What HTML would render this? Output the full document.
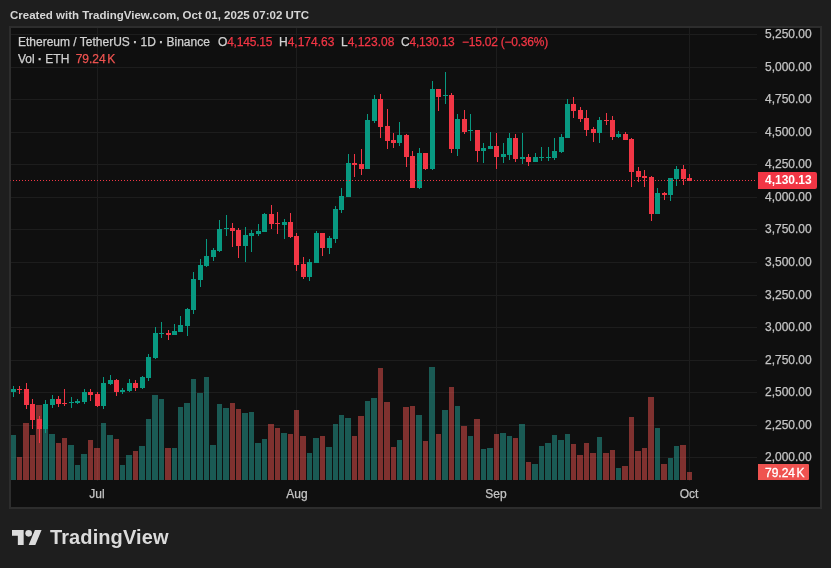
<!DOCTYPE html>
<html><head><meta charset="utf-8"><title>ETHUSDT</title>
<style>
html,body{margin:0;padding:0}
body{width:831px;height:568px;background:#1e1e1e;position:relative;overflow:hidden;font-family:"Liberation Sans",sans-serif;font-size:12px;color:#d1d1d1}
.abs{position:absolute;white-space:nowrap;line-height:14px;-webkit-text-stroke:0.25px}
#title{left:10px;top:8px;-webkit-text-stroke:0;font-weight:bold;font-size:11.5px;color:#d6d6d6;letter-spacing:0px}
#panel{position:absolute;left:9px;top:26px;width:809px;height:479px;border:2px solid #2d2d2d;background:#0f0f0f}
svg{position:absolute;left:0;top:0}
.pl{-webkit-text-stroke:0.25px;position:absolute;left:765px;width:47px;text-align:left;line-height:14px;height:14px;color:#c4c4c4;white-space:nowrap}
.tl{-webkit-text-stroke:0.25px;position:absolute;top:487px;width:40px;text-align:center;line-height:14px;color:#c4c4c4}
.r{color:#f23645}
.n{letter-spacing:-0.2px}
#pricebox{position:absolute;left:758px;top:172px;width:59px;height:17px;background:#f23645;border-radius:0 2px 2px 0;color:#fff;font-weight:bold;line-height:16px;text-indent:7px}
#volbox{-webkit-text-stroke:0.3px;position:absolute;left:758px;top:464px;width:51px;height:16px;background:#ef5350;border-radius:0 1px 1px 0;color:#fff;line-height:18px;text-indent:7px}
#logo{position:absolute;left:12px;top:530px}
#brand{position:absolute;left:50px;top:525px;font-size:20px;line-height:24px;font-weight:bold;color:#dbdbdb;letter-spacing:0.1px;white-space:nowrap}
</style></head><body>
<div id="title" class="abs">Created with TradingView.com, Oct 01, 2025 07:02 UTC</div>
<div id="panel"></div>
<svg width="831" height="568" viewBox="0 0 831 568" shape-rendering="crispEdges">
<path fill="#1d1d1d" d="M11 34h746v1h-746zM11 67h746v1h-746zM11 99h746v1h-746zM11 132h746v1h-746zM11 164h746v1h-746zM11 197h746v1h-746zM11 229h746v1h-746zM11 262h746v1h-746zM11 295h746v1h-746zM11 327h746v1h-746zM11 360h746v1h-746zM11 392h746v1h-746zM11 425h746v1h-746zM11 457h746v1h-746zM97 28h1v453h-1zM296 28h1v453h-1zM496 28h1v453h-1zM689 28h1v453h-1z"/>
<path fill="rgba(38,166,154,0.5)" d="M11 435h5V480h-5zM43 429h5V480h-5zM49 434h6V480h-6zM68 445h6V480h-6zM75 465h5V480h-5zM81 454h6V480h-6zM101 423h5V480h-5zM107 435h6V480h-6zM120 465h5V480h-5zM126 455h6V480h-6zM139 446h6V480h-6zM146 419h5V480h-5zM152 395h6V480h-6zM159 399h5V480h-5zM172 448h5V480h-5zM178 407h5V480h-5zM184 403h6V480h-6zM191 379h5V480h-5zM197 393h6V480h-6zM204 377h5V480h-5zM210 445h6V480h-6zM217 404h5V480h-5zM223 408h6V480h-6zM242 413h6V480h-6zM249 412h5V480h-5zM255 443h6V480h-6zM262 439h5V480h-5zM281 433h6V480h-6zM307 453h5V480h-5zM313 438h6V480h-6zM326 447h6V480h-6zM333 424h5V480h-5zM339 415h5V480h-5zM345 418h6V480h-6zM365 401h5V480h-5zM371 398h6V480h-6zM397 440h5V480h-5zM416 415h6V480h-6zM429 367h6V480h-6zM442 410h6V480h-6zM455 406h5V480h-5zM468 436h5V480h-5zM481 449h5V480h-5zM487 448h6V480h-6zM500 433h6V480h-6zM507 436h5V480h-5zM519 424h6V480h-6zM532 464h6V480h-6zM539 446h5V480h-5zM545 443h6V480h-6zM552 435h5V480h-5zM558 440h6V480h-6zM565 434h5V480h-5zM597 437h5V480h-5zM616 468h5V480h-5zM655 428h5V480h-5zM668 458h5V480h-5zM674 446h5V480h-5z"/>
<path fill="rgba(239,83,80,0.5)" d="M17 457h5V480h-5zM23 423h6V480h-6zM30 435h5V480h-5zM36 405h6V480h-6zM56 443h5V480h-5zM62 438h5V480h-5zM88 440h5V480h-5zM94 448h6V480h-6zM114 439h5V480h-5zM133 451h5V480h-5zM165 448h6V480h-6zM230 403h5V480h-5zM236 409h5V480h-5zM268 424h6V480h-6zM275 428h5V480h-5zM288 434h5V480h-5zM294 410h5V480h-5zM300 436h6V480h-6zM320 436h5V480h-5zM352 436h5V480h-5zM358 416h6V480h-6zM378 368h5V480h-5zM384 402h6V480h-6zM391 447h5V480h-5zM403 407h6V480h-6zM410 406h5V480h-5zM423 441h5V480h-5zM436 434h5V480h-5zM449 387h5V480h-5zM461 426h6V480h-6zM474 419h6V480h-6zM494 434h5V480h-5zM513 438h5V480h-5zM526 462h5V480h-5zM571 444h5V480h-5zM577 455h6V480h-6zM584 443h5V480h-5zM590 453h6V480h-6zM603 453h6V480h-6zM610 450h5V480h-5zM622 466h6V480h-6zM629 417h5V480h-5zM635 451h6V480h-6zM642 448h5V480h-5zM648 397h6V480h-6zM661 464h6V480h-6zM680 445h6V480h-6zM687 472h5V480h-5z"/>
<path fill="#089981" d="M13 386h1V397h-1zM11 389h5V392h-5zM45 400h1V433h-1zM43 404h5V429h-5zM52 395h1V408h-1zM50 399h5V405h-5zM71 397h1V408h-1zM69 402h5V403h-5zM77 399h1V404h-1zM75 401h5V403h-5zM84 389h1V404h-1zM82 392h5V402h-5zM103 377h1V409h-1zM101 383h5V406h-5zM110 375h1V385h-1zM108 380h5V384h-5zM122 388h1V394h-1zM120 390h5V392h-5zM129 379h1V392h-1zM127 383h5V391h-5zM142 376h1V389h-1zM140 377h5V388h-5zM148 354h1V381h-1zM146 357h5V378h-5zM155 327h1V359h-1zM153 333h5V358h-5zM161 322h1V338h-1zM159 333h5V334h-5zM174 324h1V335h-1zM172 331h5V335h-5zM180 316h1V332h-1zM178 325h5V332h-5zM187 308h1V336h-1zM185 309h5V326h-5zM193 272h1V314h-1zM191 279h5V310h-5zM200 259h1V287h-1zM198 265h5V280h-5zM206 239h1V267h-1zM204 256h5V266h-5zM213 248h1V261h-1zM211 250h5V257h-5zM219 220h1V252h-1zM217 229h5V251h-5zM226 215h1V236h-1zM224 228h5V229h-5zM245 227h1V262h-1zM243 235h5V246h-5zM251 230h1V252h-1zM249 233h5V236h-5zM258 224h1V236h-1zM256 231h5V234h-5zM264 213h1V232h-1zM262 214h5V232h-5zM284 219h1V239h-1zM282 222h5V225h-5zM309 259h1V281h-1zM307 262h5V277h-5zM316 231h1V263h-1zM314 233h5V263h-5zM329 236h1V254h-1zM327 238h5V248h-5zM335 206h1V243h-1zM333 209h5V239h-5zM341 188h1V213h-1zM339 196h5V210h-5zM348 154h1V197h-1zM346 163h5V197h-5zM367 114h1V169h-1zM365 120h5V169h-5zM374 95h1V123h-1zM372 99h5V121h-5zM399 122h1V146h-1zM397 135h5V143h-5zM419 148h1V189h-1zM417 153h5V188h-5zM432 81h1V170h-1zM430 89h5V169h-5zM445 72h1V104h-1zM443 95h5V96h-5zM457 114h1V156h-1zM455 119h5V149h-5zM470 114h1V141h-1zM468 130h5V131h-5zM483 143h1V163h-1zM481 148h5V151h-5zM490 132h1V149h-1zM488 146h5V149h-5zM503 143h1V163h-1zM501 154h5V157h-5zM509 133h1V160h-1zM507 138h5V155h-5zM522 133h1V164h-1zM520 157h5V159h-5zM535 153h1V162h-1zM533 157h5V162h-5zM541 147h1V161h-1zM539 157h5V158h-5zM548 147h1V161h-1zM546 157h5V158h-5zM554 138h1V160h-1zM552 151h5V158h-5zM561 134h1V153h-1zM559 137h5V152h-5zM567 99h1V138h-1zM565 104h5V138h-5zM599 117h1V143h-1zM597 120h5V133h-5zM618 131h1V138h-1zM616 134h5V137h-5zM657 188h1V214h-1zM655 193h5V214h-5zM670 178h1V201h-1zM668 178h5V195h-5zM676 166h1V186h-1zM674 169h5V179h-5z"/>
<path fill="#f23645" d="M19 386h1V394h-1zM17 389h5V390h-5zM26 383h1V409h-1zM24 389h5V405h-5zM32 399h1V429h-1zM30 404h5V420h-5zM39 416h1V443h-1zM37 419h5V429h-5zM58 396h1V407h-1zM56 399h5V404h-5zM64 389h1V406h-1zM62 403h5V404h-5zM90 389h1V401h-1zM88 392h5V395h-5zM97 392h1V407h-1zM95 394h5V406h-5zM116 379h1V396h-1zM114 380h5V392h-5zM135 380h1V391h-1zM133 383h5V388h-5zM168 330h1V340h-1zM166 333h5V335h-5zM232 223h1V247h-1zM230 228h5V231h-5zM238 228h1V258h-1zM236 230h5V246h-5zM271 205h1V229h-1zM269 214h5V224h-5zM277 212h1V234h-1zM275 223h5V224h-5zM290 213h1V238h-1zM288 222h5V237h-5zM296 233h1V271h-1zM294 236h5V265h-5zM303 257h1V279h-1zM301 264h5V277h-5zM322 233h1V256h-1zM320 233h5V248h-5zM354 154h1V177h-1zM352 163h5V165h-5zM361 149h1V175h-1zM359 164h5V169h-5zM380 94h1V138h-1zM378 99h5V127h-5zM387 109h1V149h-1zM385 126h5V141h-5zM393 133h1V148h-1zM391 140h5V143h-5zM406 134h1V167h-1zM404 135h5V157h-5zM412 151h1V188h-1zM410 156h5V188h-5zM425 153h1V170h-1zM423 153h5V169h-5zM438 89h1V111h-1zM436 89h5V97h-5zM451 93h1V153h-1zM449 95h5V149h-5zM464 110h1V134h-1zM462 119h5V132h-5zM477 130h1V162h-1zM475 130h5V151h-5zM496 133h1V169h-1zM494 146h5V157h-5zM515 134h1V162h-1zM513 138h5V159h-5zM528 154h1V166h-1zM526 157h5V162h-5zM573 97h1V118h-1zM571 104h5V111h-5zM580 107h1V122h-1zM578 110h5V119h-5zM586 110h1V136h-1zM584 118h5V130h-5zM593 127h1V142h-1zM591 129h5V133h-5zM606 113h1V125h-1zM604 120h5V121h-5zM612 116h1V140h-1zM610 120h5V137h-5zM625 132h1V140h-1zM623 134h5V140h-5zM631 138h1V187h-1zM629 139h5V172h-5zM638 167h1V182h-1zM636 171h5V177h-5zM644 170h1V187h-1zM642 176h5V178h-5zM651 176h1V221h-1zM649 177h5V214h-5zM664 192h1V200h-1zM662 193h5V195h-5zM683 165h1V185h-1zM681 169h5V179h-5zM689 174h1V181h-1zM687 178h5V181h-5z"/>
<path fill="#f23645" d="M13 180h1v1h-1zM16 180h1v1h-1zM19 180h1v1h-1zM22 180h1v1h-1zM25 180h1v1h-1zM28 180h1v1h-1zM31 180h1v1h-1zM34 180h1v1h-1zM37 180h1v1h-1zM40 180h1v1h-1zM43 180h1v1h-1zM46 180h1v1h-1zM49 180h1v1h-1zM52 180h1v1h-1zM55 180h1v1h-1zM58 180h1v1h-1zM61 180h1v1h-1zM64 180h1v1h-1zM67 180h1v1h-1zM70 180h1v1h-1zM73 180h1v1h-1zM76 180h1v1h-1zM79 180h1v1h-1zM82 180h1v1h-1zM85 180h1v1h-1zM88 180h1v1h-1zM91 180h1v1h-1zM94 180h1v1h-1zM97 180h1v1h-1zM100 180h1v1h-1zM103 180h1v1h-1zM106 180h1v1h-1zM109 180h1v1h-1zM112 180h1v1h-1zM115 180h1v1h-1zM118 180h1v1h-1zM121 180h1v1h-1zM124 180h1v1h-1zM127 180h1v1h-1zM130 180h1v1h-1zM133 180h1v1h-1zM136 180h1v1h-1zM139 180h1v1h-1zM142 180h1v1h-1zM145 180h1v1h-1zM148 180h1v1h-1zM151 180h1v1h-1zM154 180h1v1h-1zM157 180h1v1h-1zM160 180h1v1h-1zM163 180h1v1h-1zM166 180h1v1h-1zM169 180h1v1h-1zM172 180h1v1h-1zM175 180h1v1h-1zM178 180h1v1h-1zM181 180h1v1h-1zM184 180h1v1h-1zM187 180h1v1h-1zM190 180h1v1h-1zM193 180h1v1h-1zM196 180h1v1h-1zM199 180h1v1h-1zM202 180h1v1h-1zM205 180h1v1h-1zM208 180h1v1h-1zM211 180h1v1h-1zM214 180h1v1h-1zM217 180h1v1h-1zM220 180h1v1h-1zM223 180h1v1h-1zM226 180h1v1h-1zM229 180h1v1h-1zM232 180h1v1h-1zM235 180h1v1h-1zM238 180h1v1h-1zM241 180h1v1h-1zM244 180h1v1h-1zM247 180h1v1h-1zM250 180h1v1h-1zM253 180h1v1h-1zM256 180h1v1h-1zM259 180h1v1h-1zM262 180h1v1h-1zM265 180h1v1h-1zM268 180h1v1h-1zM271 180h1v1h-1zM274 180h1v1h-1zM277 180h1v1h-1zM280 180h1v1h-1zM283 180h1v1h-1zM286 180h1v1h-1zM289 180h1v1h-1zM292 180h1v1h-1zM295 180h1v1h-1zM298 180h1v1h-1zM301 180h1v1h-1zM304 180h1v1h-1zM307 180h1v1h-1zM310 180h1v1h-1zM313 180h1v1h-1zM316 180h1v1h-1zM319 180h1v1h-1zM322 180h1v1h-1zM325 180h1v1h-1zM328 180h1v1h-1zM331 180h1v1h-1zM334 180h1v1h-1zM337 180h1v1h-1zM340 180h1v1h-1zM343 180h1v1h-1zM346 180h1v1h-1zM349 180h1v1h-1zM352 180h1v1h-1zM355 180h1v1h-1zM358 180h1v1h-1zM361 180h1v1h-1zM364 180h1v1h-1zM367 180h1v1h-1zM370 180h1v1h-1zM373 180h1v1h-1zM376 180h1v1h-1zM379 180h1v1h-1zM382 180h1v1h-1zM385 180h1v1h-1zM388 180h1v1h-1zM391 180h1v1h-1zM394 180h1v1h-1zM397 180h1v1h-1zM400 180h1v1h-1zM403 180h1v1h-1zM406 180h1v1h-1zM409 180h1v1h-1zM412 180h1v1h-1zM415 180h1v1h-1zM418 180h1v1h-1zM421 180h1v1h-1zM424 180h1v1h-1zM427 180h1v1h-1zM430 180h1v1h-1zM433 180h1v1h-1zM436 180h1v1h-1zM439 180h1v1h-1zM442 180h1v1h-1zM445 180h1v1h-1zM448 180h1v1h-1zM451 180h1v1h-1zM454 180h1v1h-1zM457 180h1v1h-1zM460 180h1v1h-1zM463 180h1v1h-1zM466 180h1v1h-1zM469 180h1v1h-1zM472 180h1v1h-1zM475 180h1v1h-1zM478 180h1v1h-1zM481 180h1v1h-1zM484 180h1v1h-1zM487 180h1v1h-1zM490 180h1v1h-1zM493 180h1v1h-1zM496 180h1v1h-1zM499 180h1v1h-1zM502 180h1v1h-1zM505 180h1v1h-1zM508 180h1v1h-1zM511 180h1v1h-1zM514 180h1v1h-1zM517 180h1v1h-1zM520 180h1v1h-1zM523 180h1v1h-1zM526 180h1v1h-1zM529 180h1v1h-1zM532 180h1v1h-1zM535 180h1v1h-1zM538 180h1v1h-1zM541 180h1v1h-1zM544 180h1v1h-1zM547 180h1v1h-1zM550 180h1v1h-1zM553 180h1v1h-1zM556 180h1v1h-1zM559 180h1v1h-1zM562 180h1v1h-1zM565 180h1v1h-1zM568 180h1v1h-1zM571 180h1v1h-1zM574 180h1v1h-1zM577 180h1v1h-1zM580 180h1v1h-1zM583 180h1v1h-1zM586 180h1v1h-1zM589 180h1v1h-1zM592 180h1v1h-1zM595 180h1v1h-1zM598 180h1v1h-1zM601 180h1v1h-1zM604 180h1v1h-1zM607 180h1v1h-1zM610 180h1v1h-1zM613 180h1v1h-1zM616 180h1v1h-1zM619 180h1v1h-1zM622 180h1v1h-1zM625 180h1v1h-1zM628 180h1v1h-1zM631 180h1v1h-1zM634 180h1v1h-1zM637 180h1v1h-1zM640 180h1v1h-1zM643 180h1v1h-1zM646 180h1v1h-1zM649 180h1v1h-1zM652 180h1v1h-1zM655 180h1v1h-1zM658 180h1v1h-1zM661 180h1v1h-1zM664 180h1v1h-1zM667 180h1v1h-1zM670 180h1v1h-1zM673 180h1v1h-1zM676 180h1v1h-1zM679 180h1v1h-1zM682 180h1v1h-1zM685 180h1v1h-1zM688 180h1v1h-1zM691 180h1v1h-1zM694 180h1v1h-1zM697 180h1v1h-1zM700 180h1v1h-1zM703 180h1v1h-1zM706 180h1v1h-1zM709 180h1v1h-1zM712 180h1v1h-1zM715 180h1v1h-1zM718 180h1v1h-1zM721 180h1v1h-1zM724 180h1v1h-1zM727 180h1v1h-1zM730 180h1v1h-1zM733 180h1v1h-1zM736 180h1v1h-1zM739 180h1v1h-1zM742 180h1v1h-1zM745 180h1v1h-1zM748 180h1v1h-1zM751 180h1v1h-1zM754 180h1v1h-1z"/><path fill="#f23645" opacity="0.45" d="M10 180h1v1h-1z"/>
</svg>
<div class="pl" style="top:27px">5,250.00</div><div class="pl" style="top:60px">5,000.00</div><div class="pl" style="top:92px">4,750.00</div><div class="pl" style="top:125px">4,500.00</div><div class="pl" style="top:157px">4,250.00</div><div class="pl" style="top:190px">4,000.00</div><div class="pl" style="top:222px">3,750.00</div><div class="pl" style="top:255px">3,500.00</div><div class="pl" style="top:288px">3,250.00</div><div class="pl" style="top:320px">3,000.00</div><div class="pl" style="top:353px">2,750.00</div><div class="pl" style="top:385px">2,500.00</div><div class="pl" style="top:418px">2,250.00</div><div class="pl" style="top:450px">2,000.00</div>
<div class="abs" id="l1" style="left:18px;top:35px"><span id="sym">Ethereum / TetherUS <b>·</b> 1D <b>·</b> Binance</span></div>
<div class="abs n" style="left:218px;top:35px">O<span class="r">4,145.15</span></div>
<div class="abs n" style="left:279px;top:35px;letter-spacing:0">H<span class="r">4,174.63</span></div>
<div class="abs n" style="left:341px;top:35px;letter-spacing:0">L<span class="r">4,123.08</span></div>
<div class="abs n" style="left:401px;top:35px">C<span class="r">4,130.13</span></div>
<div class="abs r n" style="left:462px;top:35px;letter-spacing:-0.23px">−15.02 (−0.36%)</div>
<div class="abs" id="l2" style="left:18px;top:52px">Vol <b>·</b> ETH <span class="r" style="color:#ef5350;margin-left:3px">79.24<span style="margin-left:1.5px">K</span></span></div>
<div class="tl" style="left:77px">Jul</div>
<div class="tl" style="left:277px">Aug</div>
<div class="tl" style="left:476px">Sep</div>
<div class="tl" style="left:669px">Oct</div>
<div id="pricebox">4,130.13</div>
<div id="volbox">79.24<span style="margin-left:1.5px">K</span></div>
<svg id="logo" width="30" height="15" viewBox="0 4 36 18" style="left:12px;top:530px"><path fill="#dbdbdb" d="M14 22H7V11H0V4h14v18zM28 22h-8l7.5-18h8L28 22z"/><circle fill="#dbdbdb" cx="20" cy="8" r="4"/></svg>
<div id="brand">TradingView</div>
</body></html>
